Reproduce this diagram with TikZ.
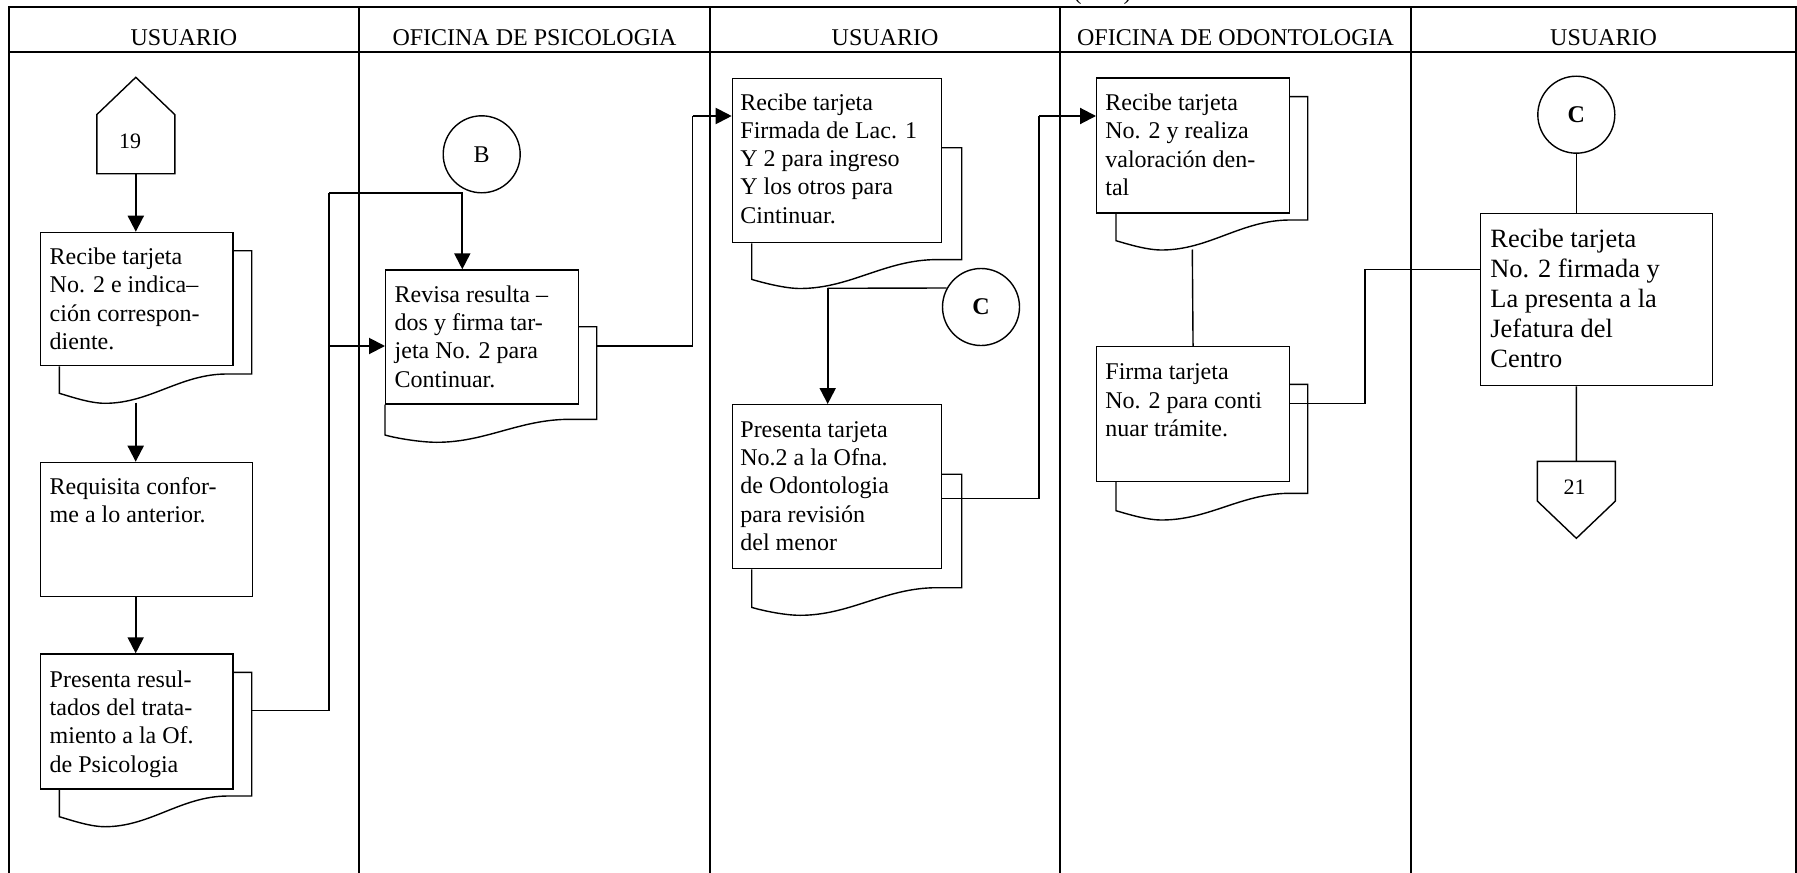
\documentclass[tikz,border=0pt]{standalone}
\usepackage{fontspec}
\setmainfont[Ligatures={TeX,CommonOff}]{Liberation Serif}
\usetikzlibrary{arrows.meta,calc}

% back sheet of a multi-document symbol, drawn behind the front box #1
% #2 top y, #3 right x, #4 bottom-right y, #5 end of flat part,
% #6/#7 lowest point of the wave, #8 left x, #9 left corner y
\newcommand\backdoc[9]{%
  \draw[docline] (#1.north east |- 0,#2) -- (#3,#2) -- (#3,#4) -- (#5,#4)
    .. controls ($(#5,#4)!0.38!(#6,#4)$) and ($(#6,#7)!0.37!(#5,#7)$) .. (#6,#7)
    .. controls +(-15,0) and +(12,3.5) .. (#8,#9) -- (#1.south -| #8,0);}

\begin{document}
\begin{tikzpicture}[x=0.5pt,y=-0.5pt,
  tblframe/.style={line width=1pt},
  lanediv/.style={line width=0.8pt},
  docline/.style={line width=0.7pt},
  procbox/.style={draw, line width=0.7pt, inner sep=0, anchor=north west},
  proctext/.style={anchor=north west, inner sep=0, align=left,
                   font=\fontsize{12}{14.15}\selectfont},
  plainlink/.style={line width=0.7pt},
  flowarrow/.style={line width=1pt, -{Triangle[length=8pt,width=8pt]}},
  connring/.style={draw, circle, line width=0.7pt, minimum size=38.5pt,
                   inner sep=0, font=\fontsize{12}{14}\selectfont},
  lanehead/.style={anchor=base, inner sep=0, font=\fontsize{12}{14}\selectfont},
  offpage/.style={inner sep=0, minimum width=38.6pt},
  pagenum/.style={anchor=base, inner sep=0, font=\fontsize{11}{13}\selectfont},
]
\useasboundingbox (0,0) rectangle (1797,872);

% ---- swimlane table ----
\draw[tblframe] (8.7,880) -- (8.7,6.7) -- (1795.5,6.7) -- (1795.5,880);
\draw[tblframe] (8.7,51.7) -- (1795.5,51.7);
\foreach \x in {359,710,1060,1411} \draw[lanediv] (\x,6.7) -- (\x,880);

\node[lanehead] (h1) at (184,46) {USUARIO};
\node[lanehead] (h2) at (534.5,46) {OFICINA DE PSICOLOGIA};
\node[lanehead] (h3) at (885,46) {USUARIO};
\node[lanehead] (h4) at (1235.5,46) {OFICINA DE ODONTOLOGIA};
\node[lanehead] (h5) at (1603.5,46) {USUARIO};
\node[lanehead] (pg) at (1102.5,0) {(\hspace{21pt})};

% ---- lane 1: usuario ----
\node[offpage, minimum height=29.15pt] (p19) at (135.8,144.15) {};
\draw[docline] (p19.south west) -- (p19.north west) -- (p19.north |- 0,77.3)
  -- (p19.north east) -- (p19.south east) -- cycle;
\node[pagenum] (n19) at (130,148.3) {19};

\node[procbox, minimum width=96.15pt, minimum height=66.65pt] (A) at (40,231.7) {};
\backdoc{A}{250.7}{251.7}{374}{226.7}{105}{403.3}{59.3}{393.3}
\node[proctext] (At) at ([shift={(9.3,15.9)}]A.north west)
  {Recibe tarjeta\\No. 2 e indica–\\ción correspon-\\diente.};

\node[procbox, minimum width=105.85pt, minimum height=67pt] (B) at (40,461.7) {};
\node[proctext] (Bt) at ([shift={(9.3,15.2)}]B.north west)
  {Requisita confor-\\me a lo anterior.};

\node[procbox, minimum width=96.15pt, minimum height=67.5pt] (C) at (40,653.3) {};
\backdoc{C}{672.3}{251.7}{796}{228}{105}{826.7}{59.3}{816.7}
\node[proctext] (Ct) at ([shift={(9.3,17)}]C.north west)
  {Presenta resul-\\tados del trata-\\miento a la Of.\\de Psicologia};

% ---- lane 2: oficina de psicologia ----
\node[connring] (cB) at (481.7,154.3) {B};

\node[procbox, minimum width=96.35pt, minimum height=67pt] (R) at (385,269.3) {};
\backdoc{R}{326.7}{596.7}{419.3}{570}{436.7}{442.3}{385}{435}
\node[proctext] (Rt) at ([shift={(9.3,16)}]R.north west)
  {Revisa resulta –\\dos y firma tar-\\jeta No. 2 para\\Continuar.};

% ---- lane 3: usuario ----
\node[procbox, minimum width=104.5pt, minimum height=82pt] (D) at (731.7,78) {};
\backdoc{D}{147.7}{961.7}{259.6}{937}{800}{288.5}{751.7}{279.4}
\node[proctext] (Dt) at ([shift={(8.3,15)}]D.north west)
  {Recibe tarjeta\\Firmada de Lac. 1\\Y 2 para ingreso\\Y los otros para\\Cintinuar.};

\node[connring, font=\fontsize{12}{14}\selectfont\bfseries] (cC1) at (981,307) {C};

\node[procbox, minimum width=104.5pt, minimum height=82pt] (E) at (731.7,404) {};
\backdoc{E}{474.2}{961.7}{587.7}{937}{800}{615.3}{751.7}{607.4}
\node[proctext] (Et) at ([shift={(8.3,17.1)}]E.north west)
  {Presenta tarjeta\\No.2 a la Ofna.\\de Odontologia\\para revisión\\del menor};

% ---- lane 4: oficina de odontologia ----
\node[procbox, minimum width=96.35pt, minimum height=67.5pt] (F) at (1096,77.3) {};
\backdoc{F}{96.7}{1307.7}{220}{1290}{1161.7}{250}{1116}{240.7}
\node[proctext] (Ft) at ([shift={(9,16.3)}]F.north west)
  {Recibe tarjeta\\No. 2 y realiza\\valoración den-\\tal};

\node[procbox, minimum width=96.35pt, minimum height=67.35pt] (G) at (1096,346) {};
\backdoc{G}{384.3}{1307.7}{493.3}{1290}{1161.7}{520}{1116}{510.7}
\node[proctext] (Gt) at ([shift={(9,17.6)}]G.north west)
  {Firma tarjeta\\No. 2 para conti\\nuar trámite.};

% ---- lane 5: usuario ----
\node[connring, font=\fontsize{12}{14}\selectfont\bfseries] (cC2) at (1576.3,114.7) {C};

\node[procbox, minimum width=115.85pt, minimum height=86.15pt] (H) at (1480,212.7) {};
\node[proctext, font=\fontsize{13.2}{15}\selectfont] (Ht) at ([shift={(10,16)}]H.north west)
  {Recibe tarjeta\\No. 2 firmada y\\La presenta a la\\Jefatura del\\Centro};

\node[offpage, minimum height=19.5pt] (p21) at (1576.35,481.2) {};
\draw[docline] (p21.north west) -- (p21.north east) -- (p21.south east)
  -- (p21.south |- 0,538.3) -- (p21.south west) -- cycle;
\node[pagenum] (n21) at (1574.5,494) {21};

% ---- connectors ----
\draw[flowarrow] (p19.south) -- (p19.south |- A.north);
\coordinate (Aw) at (135.7,402.5);
\draw[flowarrow] (Aw) -- (Aw |- B.north);
\draw[flowarrow] (B.south -| Aw) -- (C.north -| Aw);

\coordinate (Cout) at (251.7,710.7);
\coordinate (jB) at (329,193.3);
\coordinate (jR) at (329,346);
\draw[plainlink] (Cout) -| (jB);
\draw[flowarrow] (jB) -| (R.north -| 462.3,0);
\draw[flowarrow] (jR) -- (R.west |- jR);

\coordinate (Rout) at (596.7,346);
\coordinate (jD) at (692.7,116);
\draw[plainlink] (Rout) -| (jD);
\draw[flowarrow] (jD) -- (D.west |- jD);

\coordinate (Dw) at (827.7,288.3);
\draw[flowarrow] (Dw) -- (Dw |- E.north);
\draw[plainlink] (Dw) -- (cC1.151);

\coordinate (jF) at (1039,116);
\draw[plainlink] (E.east |- 0,498.7) -| (jF);
\draw[flowarrow] (jF) -- (F.west |- jF);

\coordinate (Fw) at (1192.3,249.5);
\draw[plainlink] (Fw) -- (G.north);

\coordinate (jH) at (1365,269.3);
\draw[plainlink] (G.east |- 0,403.3) -| (jH) -- (H.west |- jH);

\draw[plainlink] (cC2.south) -- (cC2.south |- H.north);
\draw[plainlink] (H.south -| cC2.south) -- (p21.north);
\end{tikzpicture}
\end{document}
